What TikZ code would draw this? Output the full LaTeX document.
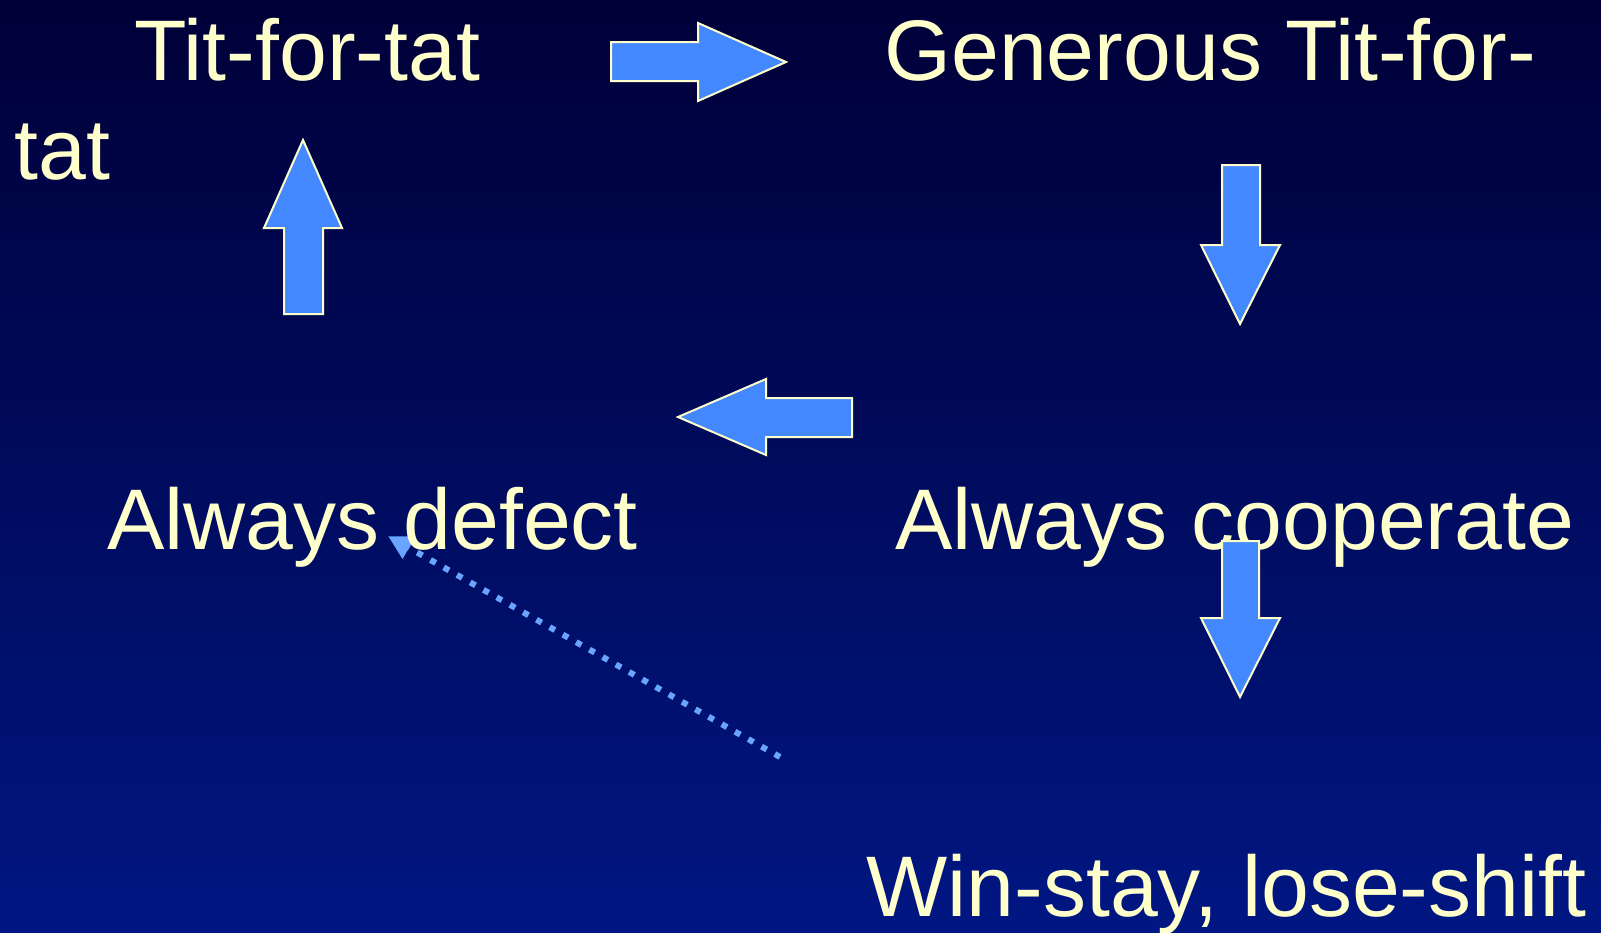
\documentclass[tikz,border=0pt]{standalone}
\usepackage{fontspec}
\setmainfont{Liberation Sans}
\usetikzlibrary{arrows.meta}
\definecolor{bgtop}{RGB}{0,0,56}
\definecolor{bgbot}{RGB}{0,22,130}
\definecolor{cream}{RGB}{255,255,204}
\definecolor{blockblue}{RGB}{68,136,255}
\definecolor{dotblue}{RGB}{105,165,255}
\begin{document}
\begin{tikzpicture}[x=0.5pt,y=-0.5pt,
  label/.style={anchor=base west,inner sep=0pt,text=cream,
    font=\fontsize{43}{50}\selectfont},
  blockarrow/.style={fill=blockblue,draw=cream,line width=1pt,line join=miter}]
  % background
  \shade[top color=bgtop,bottom color=bgbot] (0,0) rectangle (1601,932);
  \useasboundingbox (0,0) rectangle (1601,932);

  % block arrows
  \draw[blockarrow] (611,42) -- (698,42) -- (698,23) -- (786,62) -- (698,101)
    -- (698,81) -- (611,81) -- cycle;
  \draw[blockarrow] (284,314) -- (284,228) -- (264,228) -- (303,140) -- (342,228)
    -- (323,228) -- (323,314) -- cycle;
  \draw[blockarrow] (1222,165) -- (1260,165) -- (1260,245) -- (1280,245) -- (1240,324)
    -- (1201,245) -- (1222,245) -- cycle;
  \draw[blockarrow] (852,398) -- (766,398) -- (766,379) -- (678,417) -- (766,455)
    -- (766,437) -- (852,437) -- cycle;

  % text labels
  \node[label] (tft) at (134,80) {Tit-for-tat};
  \node[label] (gtft) at (884,80) {Generous Tit-for-};
  \node[label] (tat) at (14,179) {tat};

  % dotted arrow from win-stay toward always defect
  \coordinate (wsl) at (780,757);
  \coordinate (adt) at (388,536);
  \draw[dotblue,line width=3pt,dash pattern=on 3pt off 4.6pt,
        -{Triangle[length=12pt,width=12pt,fill=dotblue]}] (wsl) -- (adt);

  \node[label] (ad) at (107,549) {Always defect};
  \node[label] (ac) at (895,549) {Always cooperate};
  \node[label] (ws) at (866,916) {Win-stay, lose-shift};

  % arrow drawn over the cooperate label
  \draw[blockarrow] (1222,541) -- (1259,541) -- (1259,618) -- (1280,618) -- (1240,697)
    -- (1201,618) -- (1222,618) -- cycle;
\end{tikzpicture}
\end{document}
